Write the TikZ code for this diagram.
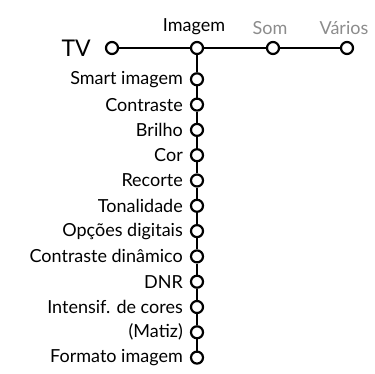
\documentclass[tikz,border=0pt]{standalone}
\usepackage{fontspec}
\setmainfont{Lato}
\definecolor{dimtext}{gray}{0.55}
\begin{document}
\begin{tikzpicture}[x=1pt, y=-1pt, line width=2.2pt,
                    dot/.style = {circle, draw, fill=white, inner sep=0pt, minimum size=12pt},
                    item/.style = {font=\fontsize{18}{18}\selectfont, inner sep=1pt}]
    \useasboundingbox (0,0) rectangle (375,373);
    \node[dot, label={[item, font=\fontsize{23}{23}\selectfont, label distance=12pt]left:TV}] (tv) at (112,48) {};
    \node[dot, label={[item, label distance=4pt, xshift=-3pt]above:Imagem}] (imagem) at (197,48) {};
    \node[dot, label={[item, dimtext, label distance=4pt, xshift=-3pt]above:Som}] (som) at (273,48) {};
    \node[dot, label={[item, dimtext, label distance=4pt, xshift=-3pt]above:Vários}] (varios) at (347,48) {};
    \foreach \t [count=\i] in {Smart imagem, Contraste, Brilho, Cor, Recorte, Tonalidade,
        Opções digitais, Contraste dinâmico, DNR, Intensif. de cores, (Matiz), Formato imagem}
        \node[dot, label={[item, label distance=5pt]left:\t}] (sub\i) at (197,54+25.3*\i) {};
    \draw (tv) -- (imagem) -- (som) -- (varios);
    \draw (imagem) -- (sub1);
    \foreach \i [count=\j from 2] in {1,...,11}
        \draw (sub\i) -- (sub\j);
\end{tikzpicture}
\end{document}
